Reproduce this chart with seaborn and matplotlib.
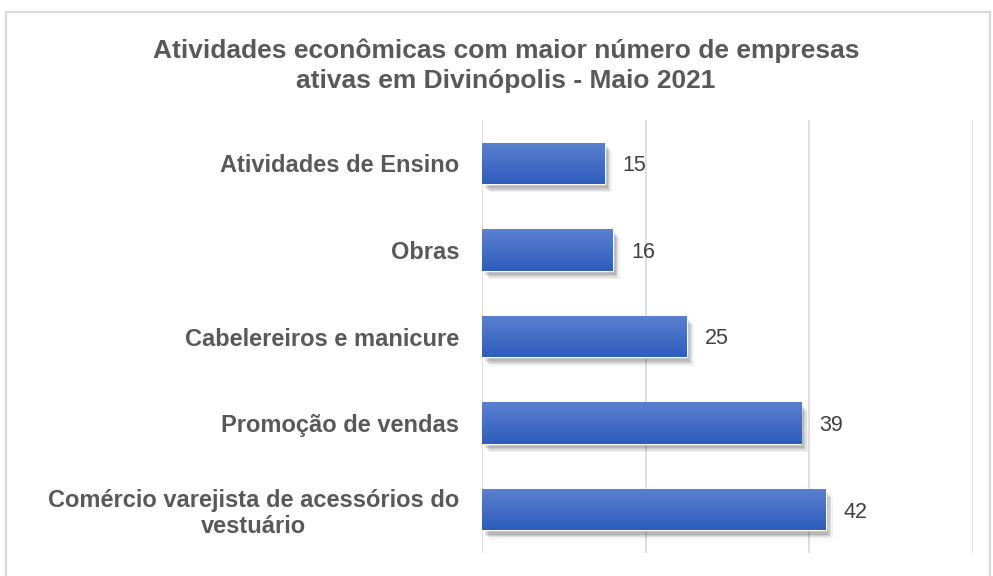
import numpy as np
import pandas as pd
import matplotlib
matplotlib.use("Agg")
import matplotlib.pyplot as plt
import matplotlib.patheffects as pe
from matplotlib.colors import LinearSegmentedColormap
from matplotlib.patches import Rectangle
import seaborn as sns

# data
activities = [
    "Atividades de Ensino",
    "Obras",
    "Cabelereiros e manicure",
    "Promoção de vendas",
    "Comércio varejista de acessórios do\nvestuário",
]
companies = [15, 16, 25, 39, 42]

title = "Atividades econômicas com maior número de empresas\nativas em Divinópolis - Maio 2021"

sns.set_theme(style="white")
plt.rcParams["font.family"] = ["Liberation Sans", "DejaVu Sans"]

df = pd.DataFrame({"atividade": activities, "empresas": companies})

fig = plt.figure(figsize=(9.93, 5.76), dpi=100)
ax = fig.add_axes([482 / 993, 1 - 553 / 576, (973 - 482) / 993, (553 - 120) / 576])

sns.barplot(data=df, x="empresas", y="atividade", orient="h", color="#3f69c6",
            width=0.48, ax=ax, zorder=3)

# gradient fill + soft shadow like the office chart style
cmap = LinearSegmentedColormap.from_list("bar", ["#5b80d0", "#2e5dbd"])
grad = np.linspace(0, 1, 64).reshape(-1, 1)
shadow = [pe.SimplePatchShadow(offset=(o, -o - 1), shadow_rgbFace="#000000", alpha=a)
          for o, a in [(5, 0.05), (4, 0.07), (3, 0.09), (2, 0.1)]]
for bar in ax.patches:
    x0, y0 = bar.get_x(), bar.get_y()
    w, h = bar.get_width(), bar.get_height()
    bar.set_path_effects(shadow + [pe.Normal()])
    im = ax.imshow(grad, cmap=cmap, aspect="auto", extent=(x0, x0 + w, y0 + h, y0),
                   zorder=4, interpolation="bicubic")
    im.set_clip_path(bar)

for i, v in enumerate(companies):
    ax.text(v + 2.2, i, str(v), va="center_baseline", ha="left", fontsize=15.5,
            color="#404040", zorder=5)

ax.set_xlim(0, 60)
ax.set_ylim(4.5, -0.5)
ax.set_xticks([0, 20, 40, 60])
ax.xaxis.grid(True, color="#d9d9d9", linewidth=1.2, zorder=0)
ax.set_xticklabels([])
ax.tick_params(axis="x", length=0)
ax.tick_params(axis="y", length=0, pad=16.5)
for lab in ax.get_yticklabels():
    lab.set_fontsize(17)
    lab.set_fontweight("bold")
    lab.set_color("#595959")
    lab.set_multialignment("center")
    lab.set_linespacing(1.15)
ax.set_xlabel("")
ax.set_ylabel("")
sns.despine(ax=ax, left=True, bottom=True, top=True, right=True)

fig.text(506 / 993, 1 - 66 / 576, title, ha="center", va="center", fontsize=19,
         fontweight="bold", color="#595959", linespacing=1.3)

# chart area border
fig.add_artist(Rectangle((6 / 993, -0.01), 984 / 993, 1 - 12 / 576 + 0.01,
                         transform=fig.transFigure, fill=False,
                         edgecolor="#d9d9d9", linewidth=1.5))

fig.savefig("out.png", dpi=100)
